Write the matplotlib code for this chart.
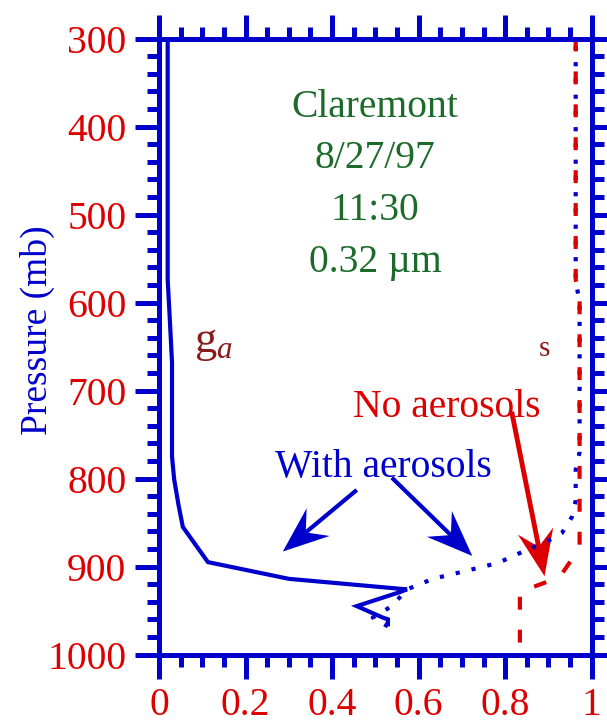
import numpy as np
import matplotlib
matplotlib.use('Agg')
from matplotlib import pyplot as plt
from matplotlib.patches import Polygon
from matplotlib.ticker import MultipleLocator

plt.rcParams['font.family'] = ['Liberation Serif', 'DejaVu Serif']
plt.rcParams['mathtext.fontset'] = 'custom'
plt.rcParams['mathtext.rm'] = 'Liberation Serif'
plt.rcParams['mathtext.it'] = 'Liberation Serif:italic'

BLUE = '#0000cc'
RED = '#dd0000'
GREEN = '#1c6b2a'
DARKRED = '#8b1a1a'

# asymmetry parameter profile with aerosols (solid part)
aer_solid_g = [0.020, 0.020, 0.025, 0.030, 0.030, 0.035, 0.045, 0.055, 0.113, 0.30, 0.573, 0.557, 0.457, 0.517, 0.529, 0.529]
aer_solid_p = [300, 574, 620, 668, 775, 801, 830, 855, 895, 914, 926, 929, 945, 958, 960, 968]

# with aerosols, dotted profile
aer_dot_g = [0.529, 0.494, 0.538, 0.573, 0.633, 0.709, 0.783, 0.855, 0.891, 0.931, 0.954, 0.963, 0.963, 0.972, 0.972, 0.963, 0.963]
aer_dot_p = [968, 958, 945, 926, 914, 905, 896, 880, 873, 862, 844, 825, 790, 770, 600, 575, 300]

# no aerosols, dashed profile
noaer_g = [0.963, 0.963, 0.972, 0.972, 0.926, 0.850, 0.834, 0.834]
noaer_p = [300, 574, 590, 879, 912, 926, 929, 1000]

info_lines = ['Claremont', '8/27/97', '11:30', '0.32 \u00b5m']
info_p = [389, 447, 506, 565]

x_ticks = [0, 0.2, 0.4, 0.6, 0.8, 1]
x_ticklabels = ['0', '0.2', '0.4', '0.6', '0.8', '1']
p_ticks = [300, 400, 500, 600, 700, 800, 900, 1000]

# arrows: (tail, tip, colour)
arrows = [
    ((0.457, 813), (0.286, 883), BLUE),
    ((0.538, 799), (0.724, 888), BLUE),
    ((0.815, 724), (0.891, 911), RED),
]

fig = plt.figure(figsize=(6.07, 7.27), dpi=100)
ax = fig.add_axes([0.262, 0.0997, 0.7128, 0.8473])

ax.plot(aer_solid_g, aer_solid_p, color=BLUE, lw=3, solid_capstyle='butt', solid_joinstyle='miter')
ax.plot(aer_dot_g, aer_dot_p, color=BLUE, lw=3, dashes=(1, 2.9), dash_capstyle='butt')
ax.plot(noaer_g, noaer_p, color=RED, lw=3, dashes=(3.1, 4.8), dash_capstyle='butt')

ax.set_xlim(0, 1)
ax.set_ylim(1000, 300)

ax.set_xticks(x_ticks)
ax.set_xticklabels(x_ticklabels)
ax.set_yticks(p_ticks)
ax.xaxis.set_minor_locator(MultipleLocator(0.05))
ax.yaxis.set_minor_locator(MultipleLocator(20))

for s in ax.spines.values():
    s.set_color(BLUE)
    s.set_linewidth(3.6)

ax.tick_params(which='both', direction='out', color=BLUE, width=3.6,
               top=True, right=True, labelcolor=RED, labelsize=28.5)
ax.tick_params(which='major', length=17.5, pad=6)
ax.tick_params(which='minor', length=8.5)

ax.set_ylabel('Pressure (mb)', color=BLUE, fontsize=27)
ax.yaxis.set_label_coords(-0.24, 0.527)

for line, p in zip(info_lines, info_p):
    ax.text(0.499, p, line, color=GREEN, fontsize=28.5, ha='center', va='baseline')

ax.text(0.125, 656, r'$\mathrm{g}_a$', color=DARKRED, fontsize=32, ha='center', va='baseline')
ax.text(0.890, 661, 's', color=DARKRED, fontsize=21, ha='center', va='baseline')
ax.text(0.666, 719, 'No aerosols', color=RED, fontsize=28.5, ha='center', va='center')
ax.text(0.518, 787, 'With aerosols', color=BLUE, fontsize=28.5, ha='center', va='center')


def stealth_arrow(ax, tail, tip, color, head_len=46, half_w=18, notch=0.35, lw=3):
    # build the head in pixel space, then map back to data
    to_px = ax.transData
    T = np.array(to_px.transform(tail))
    P = np.array(to_px.transform(tip))
    u = (P - T) / np.hypot(*(P - T))
    n = np.array([-u[1], u[0]])
    back = P - u * head_len
    nb = P - u * head_len * (1 - notch)
    pts = np.array([P, back + n * half_w, nb, back - n * half_w])
    inv = to_px.inverted()
    shaft = inv.transform(np.array([T, nb + u * 2]))
    ax.plot(shaft[:, 0], shaft[:, 1], color=color, lw=lw, solid_capstyle='butt')
    ax.add_patch(Polygon(inv.transform(pts), closed=True, color=color, lw=0))


for tail, tip, c in arrows:
    stealth_arrow(ax, tail, tip, c, lw=3.5 if c == RED else 3)

fig.savefig('out.png', dpi=100)
